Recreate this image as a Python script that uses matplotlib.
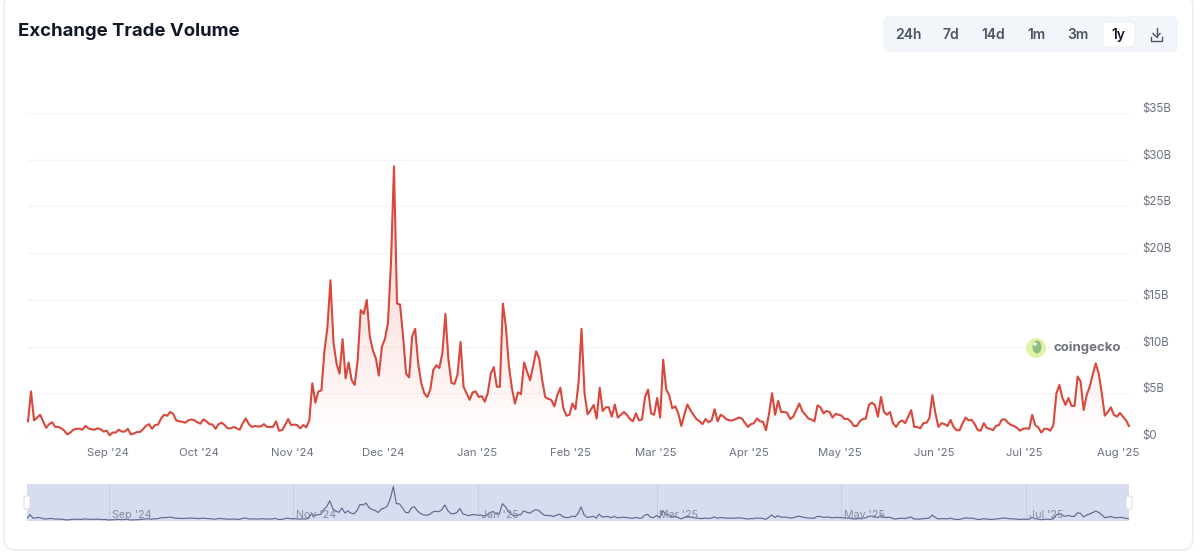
import numpy as np
import pandas as pd
import matplotlib
matplotlib.use("Agg")
import matplotlib.pyplot as plt
import matplotlib.dates as mdates
from matplotlib.patches import FancyBboxPatch, Circle, Ellipse
from matplotlib.transforms import ScaledTranslation

plt.rcParams['font.family'] = ['Inter', 'DejaVu Sans']

TITLE = "Exchange Trade Volume"
RANGE_BUTTONS = ["24h", "7d", "14d", "1m", "3m", "1y"]
START_DATE = "2024-08-05"

aug_oct_2024 = [2.0,5.2,2.1,2.4,2.7,2.0,1.3,1.7,1.9,1.4,
    1.4,1.25,1.0,.6,.8,1.1,1.2,1.2,1.1,1.5,
    1.25,1.15,1.1,1.25,1.15,.9,1.0,.5,.8,.8,
    1.1,.9,.9,1.2,.6,.7,.85,.85,1.15,1.5,
    1.7,1.2,1.6,1.65,2.3,2.7,2.6,3.0,2.8,2.1,
    2.0,1.95,1.85,2.1,2.2,2.1,1.9,1.75,2.2,2.0,
    1.7,1.65,1.2,1.7,1.85,1.6,1.25,1.25,1.4,1.25,
    1.1,1.8,2.3,1.7,1.4,1.5,1.45,1.45,1.7,1.4,
    1.4,1.4,2.0,1.0,1.05,1.6,2.25,1.6,1.65,1.6,
    1.25,1.6,1.35,2.1]
nov_jan = [6.07,4.0,5.2,5.3,9.5,12.1,17.1,10.4,8.2,7.1,
    10.8,6.6,8.3,6.4,5.9,8.6,13.9,13.5,15.0,11.1,
    9.6,8.75,6.9,10.0,10.8,12.5,18.9,29.3,14.6,14.5,
    11.1,7.1,6.7,11.1,11.9,8.2,6.1,5.0,4.6,5.4,
    7.5,8.0,7.7,9.3,13.5,8.6,6.1,6.0,7.0,10.5,
    5.7,5.0,4.3,5.1,5.2,4.6,4.7,4.1,5.0,7.1,
    7.8,5.7,5.7,14.6,12.1,7.9,5.5,3.9,5.1,4.9,
    8.3,7.3,6.4,7.9,9.5,8.75,6.4,4.6,4.4,4.3,
    3.6,4.8,5.6,3.4,2.6,2.7,3.9,3.3,6.1]
feb_may = [11.9,5.0,2.75,3.2,3.75,2.3,5.6,3.1,3.5,3.5,
    2.5,3.8,2.4,2.7,3.0,2.7,2.25,2.0,2.85,2.1,
    2.2,4.6,5.4,2.85,2.7,4.5,2.4,8.6,5.4,4.8,
    3.4,3.6,2.85,1.5,2.7,3.8,3.2,2.7,2.25,2.0,
    1.7,2.25,1.9,2.1,3.3,2.0,2.7,2.5,2.2,2.1,
    2.1,2.25,2.4,2.3,1.85,1.4,1.7,1.8,2.3,2.0,
    1.95,1.05,2.85,5.0,2.7,4.2,3.0,3.0,2.9,2.25,
    2.5,3.2,3.9,3.1,2.7,2.3,2.2,2.0,3.7,3.5,
    2.85,3.1,3.0,2.4,2.8,2.7,2.6,2.25,2.25,2.0,
    1.5,1.5,2.0,2.25,2.3,3.75,4.0,3.75,2.5,4.6,
    3.0,2.7,3.0,1.8,1.4,1.9,2.1,1.8,2.5,3.2]
may_aug_2025 = [1.4,1.4,1.25,1.8,1.85,2.3,4.8,2.85,1.4,1.8,
    1.7,1.5,2.15,1.4,1.05,1.05,1.8,2.4,2.1,2.15,
    1.7,1.05,1.0,1.8,1.3,1.2,1.05,1.5,1.6,2.2,
    2.2,1.85,1.6,1.5,1.3,1.0,1.2,1.25,1.2,2.7,
    1.6,1.35,.8,1.2,1.2,1.0,1.6,5.0,5.9,4.5,
    3.75,4.5,3.65,3.65,6.8,6.25,3.2,4.8,5.7,7.0,
    8.2,7.1,5.0,2.6,3.0,3.5,2.7,2.5,2.9,2.5,
    2.1,1.5]

volume_billion = aug_oct_2024 + nov_jan + feb_may + may_aug_2025
if len(volume_billion) != 365:
    raise SystemExit(f"length {len(volume_billion)}")

dates = pd.date_range(START_DATE, periods=len(volume_billion), freq="D")
month_ticks = pd.date_range("2024-09-01", "2025-08-01", freq="MS")
month_labels = [d.strftime("%b '%y") for d in month_ticks]
nav_ticks = month_ticks[:-1:2]
nav_labels = month_labels[:-1:2]
y_ticks = [0, 5, 10, 15, 20, 25, 30, 35]
y_labels = ["$0"] + [f"${v}B" for v in y_ticks[1:]]

W, H = 1200, 555
fig = plt.figure(figsize=(W / 100, H / 100), dpi=100, facecolor="white")

def axes_px(x0, y0, x1, y1, **kw):
    return fig.add_axes([x0 / W, 1 - y1 / H, (x1 - x0) / W, (y1 - y0) / H], **kw)

# page background in pixel coordinates
bg = axes_px(0, 0, W, H)
bg.set_xlim(0, W); bg.set_ylim(H, 0); bg.axis("off"); bg.set_zorder(0)
bg.add_patch(FancyBboxPatch((4, -6), 1189, 556, boxstyle="round,pad=0,rounding_size=12",
                            fc="white", ec="#eeeff1", lw=1.4))
bg.text(18, 31, TITLE, fontsize=13.4, fontweight="bold", color="#111827", va="center", ha="left")
bg.add_patch(FancyBboxPatch((883, 16), 295, 36, boxstyle="round,pad=0,rounding_size=6",
                            fc="#f2f5fa", ec="none"))
bg.add_patch(FancyBboxPatch((1103, 22), 32, 25, boxstyle="round,pad=0,rounding_size=5",
                            fc="white", ec="#eceef3", lw=0.6))
for label, cx in zip(RANGE_BUTTONS, [908, 951, 993, 1036, 1078, 1118]):
    bg.text(cx, 35, label, fontsize=10, fontweight="semibold", ha="center", va="center",
            color="#111827" if label == "1y" else "#4b5563")
# download icon
bg.plot([1156.5, 1156.5], [28, 37], color="#4b5563", lw=1.0)
bg.plot([1153, 1156.5, 1160], [33.5, 37, 33.5], color="#4b5563", lw=1.0)
bg.plot([1151, 1151, 1162, 1162], [37, 41, 41, 37], color="#4b5563", lw=1.0)

# main chart
ax = axes_px(28, 113, 1129, 440)
ax.patch.set_alpha(0)
ax.set_zorder(1)
x = mdates.date2num(dates)
for s in ax.spines.values():
    s.set_visible(False)
ax.yaxis.tick_right()
ax.set_yticks(y_ticks, y_labels)
ax.set_xticks(mdates.date2num(month_ticks), month_labels)
ax.tick_params(axis="y", length=0, pad=9.5, labelsize=8.3, labelcolor="#6b7280")
ax.tick_params(axis="x", length=0, pad=6, labelsize=8.2, labelcolor="#6b7280")
nudge_y = ScaledTranslation(0, -2 / 100, fig.dpi_scale_trans)
nudge_x = ScaledTranslation(-1.5 / 100, 0, fig.dpi_scale_trans)
for t in ax.get_yticklabels():
    t.set_va("bottom")
    t.set_transform(t.get_transform() + nudge_y)
for t in ax.get_xticklabels():
    t.set_transform(t.get_transform() + nudge_x)
ax.grid(axis="y", color="#f5f5f6", lw=1)
ax.set_axisbelow(True)

poly = ax.fill_between(x, 0, volume_billion, color="none", lw=0)
levels = np.linspace(1, 0, 256)
grad = np.zeros((256, 1, 4))
grad[..., :3] = matplotlib.colors.to_rgb("#e8503f")
grad[..., 3] = (0.15 * np.clip(levels * 35 / 14, 0, 1)).reshape(-1, 1)
im = ax.imshow(grad, extent=[x[0], x[-1], 0, 35], aspect="auto", zorder=1.5, origin="upper")
im.set_clip_path(poly.get_paths()[0], transform=ax.transData)
ax.set_xlim(x[0], x[-1]); ax.set_ylim(0, 35)
ax.plot(x, volume_billion, color="#d8483d", lw=1.5, zorder=3, solid_joinstyle="round", clip_on=False)

# navigator
nav = axes_px(27, 484, 1129, 521)
nav.set_zorder(1)
nav.set_facecolor("#d7ddef")
nav.set_xlim(x[0], x[-1])
nav.set_ylim(-0.3, 31.5)
for s in nav.spines.values():
    s.set_visible(False)
nav.set_yticks([])
nav.set_xticks([])
for d, lab in zip(nav_ticks, nav_labels):
    xn = mdates.date2num(d)
    nav.axvline(xn, color="#c8cfe2", lw=0.8)
    nav.annotate(lab, (xn, 0), xycoords=("data", "axes fraction"), xytext=(2, 1),
                 textcoords="offset points", fontsize=7.7, color="#858ca2", ha="left", va="bottom")
nav.plot(x, volume_billion, color="#5f6a8e", lw=0.85)

# top overlay: handles and watermark
top = axes_px(0, 0, W, H)
top.set_xlim(0, W); top.set_ylim(H, 0); top.axis("off"); top.set_zorder(5)
for hx in (27, 1129):
    top.add_patch(FancyBboxPatch((hx - 3, 496), 6, 13, boxstyle="round,pad=0,rounding_size=1.5",
                                 fc="white", ec="#d4d7de", lw=0.6))
top.add_patch(Circle((1036, 348), 10, fc="#e3f3a6", ec="none"))
top.add_patch(Ellipse((1037, 347), 9, 13, fc="#8fbf7f", ec="none"))
top.add_patch(Circle((1035, 344), 1.7, fc="white", ec="none"))
top.text(1053, 347.5, "coingecko", fontsize=9.5, fontweight="bold", color="#6f7378", va="center", ha="left",
         bbox=dict(fc="white", ec="none", pad=1.5))

fig.savefig("out.png", dpi=100)
